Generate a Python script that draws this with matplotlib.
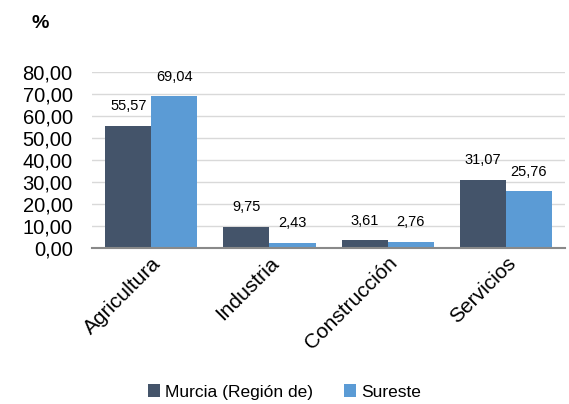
import matplotlib
matplotlib.use("Agg")
import matplotlib.pyplot as plt
import numpy as np

categories = ["Agricultura", "Industria", "Construcción", "Servicios"]
murcia = [55.57, 9.75, 3.61, 31.07]
sureste = [69.04, 2.43, 2.76, 25.76]
series_names = ["Murcia (Región de)", "Sureste"]
yticks = [0, 10, 20, 30, 40, 50, 60, 70, 80]

def fmt(v):
    return f"{v:.2f}".replace(".", ",")

plt.rcParams['font.family'] = ['Liberation Sans', 'DejaVu Sans']

fig = plt.figure(figsize=(5.69, 4.04), dpi=100)
ax = fig.add_axes([0.162, 0.386, 0.831, 0.436])

x = np.arange(len(categories))
w = 0.39
c1, c2 = "#44546A", "#5B9BD5"
b1 = ax.bar(x - w/2, murcia, w, color=c1, label=series_names[0], zorder=3)
b2 = ax.bar(x + w/2, sureste, w, color=c2, label=series_names[1], zorder=3)

for bars, vals in ((b1, murcia), (b2, sureste)):
    for r, v in zip(bars, vals):
        ax.annotate(fmt(v), (r.get_x() + r.get_width()/2, v), xytext=(0, 9),
                    textcoords="offset points", ha="center", va="bottom", fontsize=10.5)

ax.set_xlim(-0.5, 3.5)
ax.set_ylim(0, 80)
ax.set_yticks(yticks)
ax.set_yticklabels([fmt(v) for v in yticks], fontsize=14.5)
ax.yaxis.grid(True, color="#D9D9D9", linewidth=1, zorder=0)
ax.set_axisbelow(True)
ax.tick_params(axis="y", length=0, pad=14)
ax.tick_params(axis="x", length=0, pad=4)
ax.set_xticks(x)
ax.set_xticklabels(categories, rotation=45, ha="right", rotation_mode="anchor", fontsize=15)
for s in ["left", "right", "top"]:
    ax.spines[s].set_visible(False)
ax.spines["bottom"].set_color("#898989")
ax.spines["bottom"].set_linewidth(1.5)
ax.spines["bottom"].set_zorder(4)

fig.text(40/569, 1 - 24/404, "%", fontsize=14, fontweight="bold", ha="center", va="center")

fig.legend(handles=[b1, b2], labels=series_names, loc="center", bbox_to_anchor=(0.5, 1 - 392/404),
           ncol=2, frameon=False, fontsize=12.5, handlelength=0.7, handleheight=0.7,
           handletextpad=0.3, columnspacing=1.8)

fig.savefig("out.png", dpi=100)
